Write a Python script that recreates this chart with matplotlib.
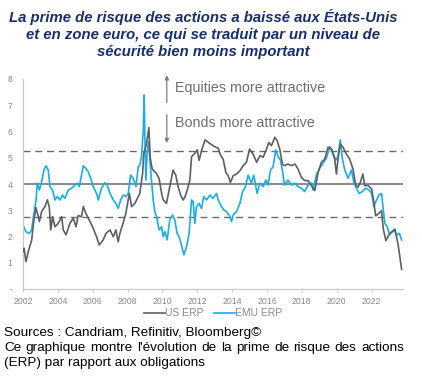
import matplotlib
matplotlib.use("Agg")
import matplotlib.pyplot as plt

plt.rcParams['font.family'] = ['Liberation Sans', 'DejaVu Sans']

title = "La prime de risque des actions a baissé aux États-Unis\net en zone euro, ce qui se traduit par un niveau de\nsécurité bien moins important"
footer1 = "Sources : Candriam, Refinitiv, Bloomberg©"
footer2 = "Ce graphique montre l'évolution de la prime de risque des actions"
footer3 = "(ERP) par rapport aux obligations"

us_years = [2002.0, 2002.06, 2002.17, 2002.3, 2002.5, 2002.6, 2002.74, 2002.88, 2002.94, 2003.07,
            2003.26, 2003.4, 2003.51, 2003.59, 2003.7, 2003.83, 2004.02, 2004.22, 2004.31, 2004.47,
            2004.69, 2004.88, 2005.04, 2005.17, 2005.36, 2005.46, 2005.61, 2005.8, 2005.99, 2006.22,
            2006.37, 2006.6, 2006.76, 2006.99, 2007.18, 2007.33, 2007.46, 2007.56, 2007.71, 2007.9,
            2008.1, 2008.23, 2008.42, 2008.61, 2008.7, 2008.86, 2008.93, 2009.0, 2009.1, 2009.22,
            2009.3, 2009.4, 2009.47, 2009.66, 2009.81, 2009.95, 2010.04, 2010.23, 2010.42, 2010.61,
            2010.76, 2010.9, 2011.04, 2011.19, 2011.3, 2011.42, 2011.57, 2011.67, 2011.86, 2012.0,
            2012.1, 2012.3, 2012.45, 2012.7, 2013.0, 2013.2, 2013.33, 2013.48, 2013.64, 2013.77,
            2013.9, 2014.06, 2014.25, 2014.44, 2014.63, 2014.82, 2015.0, 2015.2, 2015.4, 2015.6,
            2015.78, 2015.97, 2016.1, 2016.25, 2016.45, 2016.58, 2016.73, 2016.88, 2017.0, 2017.2,
            2017.4, 2017.6, 2017.78, 2017.97, 2018.16, 2018.36, 2018.55, 2018.74, 2018.93, 2019.12,
            2019.31, 2019.5, 2019.7, 2019.88, 2019.98, 2020.07, 2020.2, 2020.36, 2020.55, 2020.74,
            2020.93, 2021.09, 2021.22, 2021.35, 2021.5, 2021.6, 2021.8, 2022.0, 2022.1, 2022.23,
            2022.38, 2022.57, 2022.67, 2022.82, 2022.96, 2023.15, 2023.34, 2023.53, 2023.72]
us_erp = [1.42, 1.55, 1.04, 1.42, 1.87, 2.5, 3.1, 2.75, 2.57, 2.95,
          3.14, 3.4, 3.1, 2.25, 2.75, 2.37, 2.5, 2.75, 2.25, 2.06,
          2.5, 2.7, 2.37, 2.8, 2.75, 3.14, 2.88, 2.63, 2.37, 1.99,
          1.68, 1.87, 2.12, 2.25, 1.99, 2.25, 1.8, 2.12, 2.44, 2.88,
          3.64, 3.14, 3.26, 3.52, 3.64, 4.4, 5.17, 5.3, 5.6, 6.15,
          5.0, 4.6, 4.53, 4.4, 4.2, 3.64, 3.4, 3.26, 3.9, 4.53,
          4.34, 3.9, 3.58, 3.39, 3.52, 3.77, 4.14, 5.04, 5.17, 5.3,
          4.9, 5.4, 5.68, 5.55, 5.42, 5.36, 5.1, 4.95, 4.44, 4.32,
          4.06, 4.32, 4.38, 4.5, 4.7, 4.83, 5.33, 5.14, 4.83, 5.08,
          5.02, 5.33, 5.58, 5.46, 5.78, 5.65, 5.33, 4.76, 4.7, 4.76,
          4.7, 4.76, 4.57, 4.25, 4.13, 4.13, 3.94, 3.75, 4.44, 4.83,
          4.95, 5.4, 5.33, 4.95, 4.38, 4.95, 5.52, 5.4, 5.14, 4.95,
          4.57, 3.94, 3.88, 4.06, 4.38, 3.94, 3.94, 3.81, 3.43, 2.79,
          2.86, 2.98, 2.28, 1.84, 2.03, 2.16, 2.28, 1.65, 0.75]

emu_years = [2002.0, 2002.17, 2002.36, 2002.5, 2002.6, 2002.75, 2002.82, 2002.94, 2003.07, 2003.2,
             2003.32, 2003.45, 2003.55, 2003.7, 2003.83, 2003.97, 2004.12, 2004.27, 2004.4, 2004.6,
             2004.79, 2004.98, 2005.11, 2005.23, 2005.36, 2005.46, 2005.6, 2005.74, 2005.88, 2006.03,
             2006.22, 2006.32, 2006.5, 2006.7, 2006.83, 2006.99, 2007.18, 2007.33, 2007.46, 2007.6,
             2007.75, 2007.9, 2008.04, 2008.17, 2008.32, 2008.48, 2008.61, 2008.7, 2008.8, 2008.9,
             2008.95, 2009.0, 2009.05, 2009.12, 2009.2, 2009.28, 2009.37, 2009.47, 2009.56, 2009.66,
             2009.81, 2009.95, 2010.04, 2010.14, 2010.27, 2010.42, 2010.58, 2010.71, 2010.84, 2010.96,
             2011.09, 2011.23, 2011.38, 2011.53, 2011.67, 2011.76, 2011.86, 2011.95, 2012.1, 2012.24,
             2012.37, 2012.53, 2012.72, 2012.9, 2013.1, 2013.2, 2013.39, 2013.52, 2013.67, 2013.87,
             2013.96, 2014.06, 2014.25, 2014.44, 2014.6, 2014.73, 2014.92, 2015.1, 2015.24, 2015.43,
             2015.59, 2015.78, 2015.93, 2016.06, 2016.2, 2016.35, 2016.5, 2016.64, 2016.77, 2016.88,
             2017.0, 2017.2, 2017.4, 2017.6, 2017.78, 2017.97, 2018.16, 2018.36, 2018.55, 2018.64,
             2018.83, 2019.02, 2019.21, 2019.4, 2019.6, 2019.79, 2019.94, 2020.07, 2020.2, 2020.32,
             2020.46, 2020.65, 2020.84, 2020.97, 2021.13, 2021.28, 2021.47, 2021.66, 2021.85, 2022.0,
             2022.13, 2022.28, 2022.42, 2022.57, 2022.67, 2022.76, 2022.9, 2023.0, 2023.15, 2023.28,
             2023.43, 2023.59, 2023.72]
emu_erp = [2.44, 2.18, 2.12, 2.25, 2.76, 3.39, 4.03, 3.77, 4.09, 4.53,
           4.69, 4.53, 3.9, 3.77, 3.39, 3.52, 3.39, 3.58, 3.45, 3.77,
           3.84, 3.96, 4.03, 3.9, 4.34, 4.69, 4.6, 4.47, 4.22, 3.9,
           3.64, 3.39, 3.84, 4.05, 3.96, 3.64, 3.39, 3.26, 3.07, 3.39,
           3.58, 3.52, 3.64, 4.34, 4.22, 3.9, 4.66, 4.72, 5.04, 6.06,
           7.39, 5.55, 4.15, 5.17, 5.61, 4.91, 4.15, 3.39, 2.95, 2.76,
           2.25, 2.37, 1.99, 2.18, 1.87, 2.63, 2.82, 2.63, 2.12, 1.99,
           1.68, 1.3, 1.61, 2.12, 3.39, 3.33, 2.5, 3.14, 3.26, 3.07,
           3.52, 3.39, 3.58, 3.45, 3.64, 3.39, 3.14, 3.01, 2.95, 2.76,
           2.57, 2.82, 2.95, 3.26, 3.71, 3.84, 4.34, 4.03, 4.34, 3.64,
           4.03, 3.9, 4.15, 3.96, 4.53, 4.66, 5.3, 5.04, 4.91, 4.53,
           3.96, 4.15, 3.96, 4.03, 3.9, 3.84, 3.71, 3.96, 4.03, 3.77,
           4.34, 4.6, 4.79, 4.98, 5.42, 5.17, 4.91, 5.04, 5.68, 4.98,
           4.53, 4.22, 4.53, 4.09, 3.84, 3.64, 3.71, 3.84, 3.77, 3.64,
           3.14, 3.39, 3.58, 3.64, 3.01, 2.5, 2.37, 2.12, 2.18, 2.25,
           2.06, 2.12, 1.87]

x_ticks = [2002, 2004, 2006, 2008, 2010, 2012, 2014, 2016, 2018, 2020, 2022]
y_ticks = [0, 1, 2, 3, 4, 5, 6, 7, 8]
y_tick_labels = ["-", "1", "2", "3", "4", "5", "6", "7", "8"]
mean_level = 4.0
upper_band = 5.25
lower_band = 2.75

W, H = 422, 383
fig = plt.figure(figsize=(W / 100, H / 100), dpi=100)
ax = fig.add_axes([23 / W, 1 - 289 / H, 380 / W, 210 / H])

US_C = "#5d5f66"
EMU_C = "#1aaee5"
GRID_C = "#6a6a6a"
TXT_C = "#8a8a8a"

ax.axhline(mean_level, color=GRID_C, lw=1.1, zorder=1)
ax.axhline(upper_band, color=GRID_C, lw=1.0, dashes=(5, 3.5), zorder=1)
ax.axhline(lower_band, color=GRID_C, lw=1.0, dashes=(5, 3.5), zorder=1)

ax.plot(us_years, us_erp, color=US_C, lw=1.2, label="US ERP", zorder=3)
ax.plot(emu_years, emu_erp, color=EMU_C, lw=1.2, label="EMU ERP", zorder=2)

ax.set_xlim(2002, 2023.8)
ax.set_ylim(0, 8)
ax.set_xticks(x_ticks)
ax.set_xticklabels([str(t) for t in x_ticks])
ax.set_yticks(y_ticks)
ax.set_yticklabels(y_tick_labels)
ax.tick_params(axis='both', colors="#c8c8c8", labelcolor=TXT_C, labelsize=6.3, length=2.5, width=0.8)
ax.tick_params(axis='y', length=0, pad=7.5)
ax.tick_params(axis='x', pad=3)
for s in ["top", "right"]:
    ax.spines[s].set_visible(False)
for s in ["left", "bottom"]:
    ax.spines[s].set_color("#c8c8c8")
    ax.spines[s].set_linewidth(0.9)

# arrows
ax.annotate("", xy=(2010.25, 8.25), xytext=(2010.25, 7.0), annotation_clip=False,
            arrowprops=dict(arrowstyle="-|>", color="#7a7f8a", lw=0.9, mutation_scale=6))
ax.annotate("", xy=(2010.25, 5.45), xytext=(2010.25, 6.75), annotation_clip=False,
            arrowprops=dict(arrowstyle="-|>", color="#7a7f8a", lw=0.9, mutation_scale=6))
ax.text(2010.7, 7.66, "Equities more attractive", color="#6f6f6f", fontsize=10.3, va="center", ha="left")
ax.text(2010.7, 6.32, "Bonds more attractive", color="#6f6f6f", fontsize=10.3, va="center", ha="left")

leg = ax.legend(loc="center", bbox_to_anchor=(0.5, -0.115), ncol=2, frameon=False,
                fontsize=7.5, handlelength=2.0, handletextpad=0.05, columnspacing=1.0, labelcolor=TXT_C)

fig.text(203 / W, 1 - 34 / H, title, ha="center", va="center", fontsize=10.7, fontweight="bold",
         fontstyle="italic", color="#172f6b", linespacing=1.28)

FS = 9.7
fig.text(4 / W, 1 - 333 / H, footer1, ha="left", va="center", fontsize=FS, color="black")
fig.text(4 / W, 1 - 363 / H, footer3, ha="left", va="center", fontsize=FS, color="black")

# justified second line
fig.canvas.draw()
renderer = fig.canvas.get_renderer()
words = footer2.split(" ")
widths = []
for w in words:
    t = fig.text(0, 0, w, fontsize=FS)
    widths.append(t.get_window_extent(renderer).width)
    t.remove()
x_left, x_right = 4.0, 404.0
gap = (x_right - x_left - sum(widths)) / (len(words) - 1)
xpos = x_left
for w, wd in zip(words, widths):
    fig.text(xpos / W, 1 - 348 / H, w, ha="left", va="center", fontsize=FS, color="black")
    xpos += wd + gap

fig.savefig("out.png", dpi=100)
